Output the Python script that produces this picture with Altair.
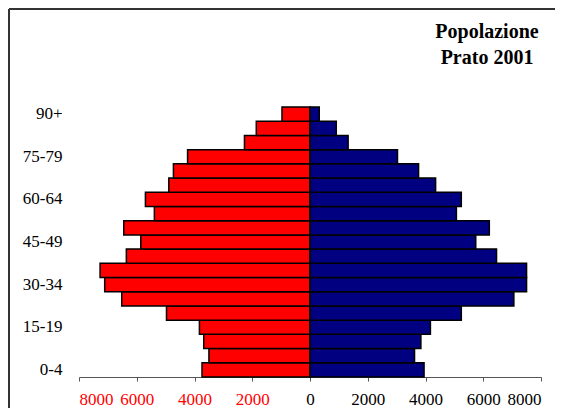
import altair as alt
import pandas as pd

# Age classes (bottom to top)
eta = ["0-4", "5-9", "10-14", "15-19", "20-24", "25-29", "30-34", "35-39",
       "40-44", "45-49", "50-54", "55-59", "60-64", "65-69", "70-74",
       "75-79", "80-84", "85-89", "90+"]
# Left side (red)
femmine = [3740, 3500, 3680, 3830, 4970, 6520, 7110, 7270, 6360, 5860,
           6450, 5390, 5700, 4890, 4730, 4240, 2270, 1860, 970]
# Right side (navy)
maschi = [3950, 3620, 3840, 4170, 5240, 7060, 7500, 7500, 6460, 5740,
          6210, 5070, 5240, 4350, 3760, 3030, 1320, 910, 320]

etichette_y = ["0-4", "15-19", "30-34", "45-49", "60-64", "75-79", "90+"]
valori_x = [-8000, -6000, -4000, -2000, 0, 2000, 4000, 6000, 8000]
titolo = ["Popolazione", "Prato 2001"]

rows = []
for e, f, m in zip(eta, femmine, maschi):
    rows.append({"Età": e, "Sesso": "Femmine", "Popolazione": f})
    rows.append({"Età": e, "Sesso": "Maschi", "Popolazione": m})
df = pd.DataFrame(rows)

FONT = "Liberation Serif"

bars = alt.Chart(df).transform_calculate(
    valore="datum.Sesso == 'Femmine' ? -datum.Popolazione : datum.Popolazione"
).mark_bar(stroke="black", strokeWidth=1.5).encode(
    x=alt.X("valore:Q",
            scale=alt.Scale(domain=[-8000, 8000], nice=False, zero=False),
            axis=alt.Axis(values=valori_x, labelExpr="abs(datum.value)",
                          title=None, grid=False, domainColor="#555",
                          tickColor="#555", tickSize=4, labelPadding=10,
                          labelFont=FONT, labelFontSize=17,
                          labelColor={"condition": {"test": "datum.value < 0", "value": "#FF0000"},
                                      "value": "black"})),
    y=alt.Y("Età:N", sort=list(reversed(eta)),
            scale=alt.Scale(paddingInner=0, paddingOuter=0),
            axis=alt.Axis(values=etichette_y, title=None, ticks=False,
                          domain=False, labelPadding=17, labelFont=FONT,
                          labelFontSize=17, labelColor="black")),
    color=alt.Color("Sesso:N",
                    scale=alt.Scale(domain=["Femmine", "Maschi"],
                                    range=["#FF0000", "#000080"]),
                    legend=None),
)

one = alt.Data(values=[{}])
frame_v = alt.Chart(one).mark_rule(color="#333", strokeWidth=2).encode(
    x=alt.value(-70), y=alt.value(-98), y2=alt.value(330))
frame_h = alt.Chart(one).mark_rule(color="#333", strokeWidth=2).encode(
    x=alt.value(-70), x2=alt.value(476), y=alt.value(-98))

title_text = alt.Chart(one).mark_text(
    font=FONT, fontSize=20, fontWeight="bold", align="center",
    baseline="top", lineHeight=26, color="black"
).encode(text=alt.value(titolo), x=alt.value(408), y=alt.value(-85))

chart = alt.layer(bars, frame_v, frame_h, title_text).properties(
    width=462, height=270,
    autosize=alt.AutoSizeParams(type="none"),
    padding={"left": 71, "top": 99, "right": 14, "bottom": 31},
).configure_view(stroke=None)

chart.save("out.html", embed_options={"renderer": "svg", "actions": False})
